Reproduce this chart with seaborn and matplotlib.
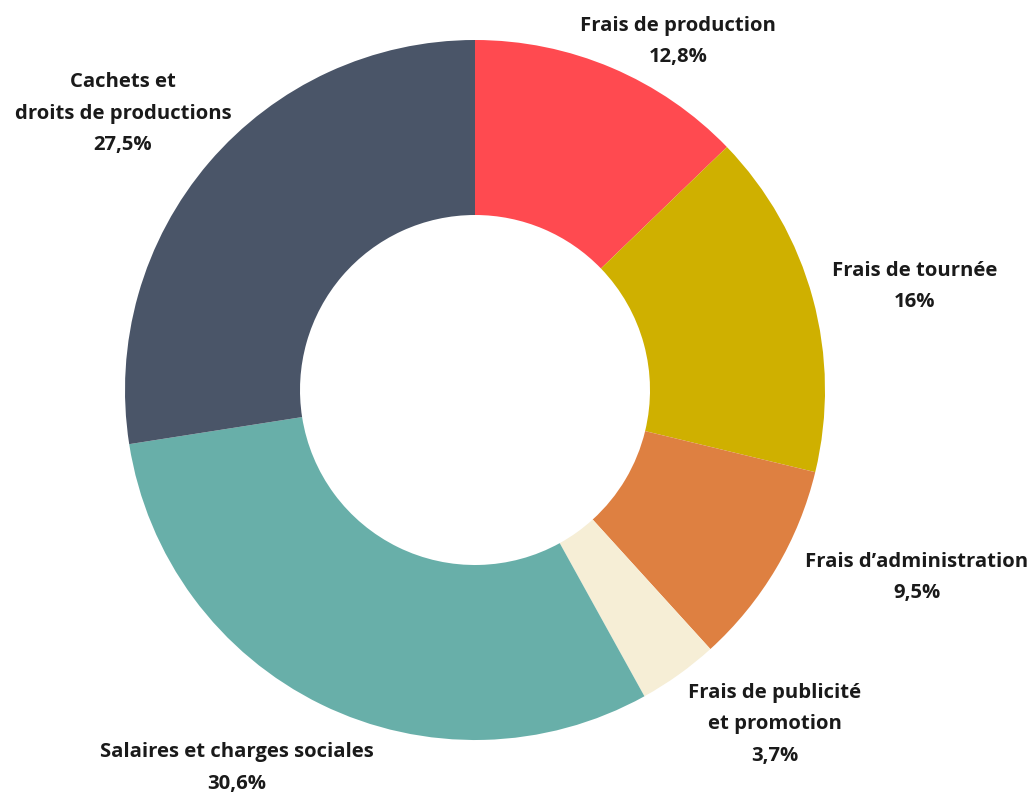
import matplotlib
matplotlib.use("Agg")
import matplotlib.pyplot as plt
import seaborn as sns

# data
categories = ["Frais de production", "Frais de tournée", "Frais d\u2019administration",
              "Frais de publicité\net promotion", "Salaires et charges sociales",
              "Cachets et\ndroits de productions"]
shares = [12.8, 16.0, 9.5, 3.7, 30.6, 27.5]
share_labels = ["12,8%", "16%", "9,5%", "3,7%", "30,6%", "27,5%"]
colors = ["#FF4A50", "#CFB000", "#DE8041", "#F6EED6", "#68AFA9", "#4A5568"]

# label positions (radius units)
label_pos = [(0.58, 0.995), (1.257, 0.295), (1.263, -0.535),
             (0.857, -0.955), (-0.68, -1.08), (-1.006, 0.79)]

sns.set_theme(style="white")
plt.rcParams['font.family'] = ['Open Sans', 'DejaVu Sans']

fig = plt.figure(figsize=(10.32, 7.93), dpi=100)
ax = fig.add_axes([125 / 1032, 53 / 793, 700 / 1032, 700 / 793])

ax.pie(shares, colors=colors, startangle=90, counterclock=False,
       radius=1.0, wedgeprops=dict(width=0.5, linewidth=0))
ax.set_xlim(-1, 1)
ax.set_ylim(-1, 1)
ax.set_aspect("equal")
ax.axis("off")

for cat, lab, (x, y) in zip(categories, share_labels, label_pos):
    ax.text(x, y, cat + "\n" + lab, ha="center", va="center",
            fontsize=14.6, fontweight="bold", color="#1a1a1a",
            linespacing=1.75, clip_on=False)

fig.savefig("out.png", dpi=100, facecolor="white")
